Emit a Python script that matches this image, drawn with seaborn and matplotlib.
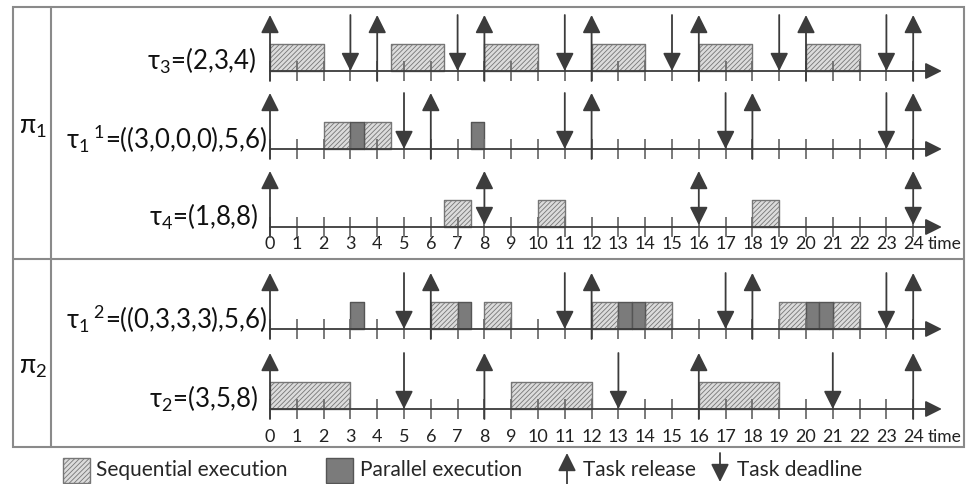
import matplotlib
matplotlib.use("Agg")
import matplotlib.pyplot as plt
import matplotlib.patches as mpatches
import seaborn as sns

sns.set_style("white")
plt.rcParams["font.family"] = ["Lato", "DejaVu Sans"]
plt.rcParams["mathtext.default"] = "regular"
plt.rcParams["hatch.linewidth"] = 0.6

# schedule data: (start, duration) pairs, release / deadline instants
labels = [r"τ$_3$=(2,3,4)", r"τ$_1\,{}^1$=((3,0,0,0),5,6)", r"τ$_4$=(1,8,8)",
          r"τ$_1\,{}^2$=((0,3,3,3),5,6)", r"τ$_2$=(3,5,8)"]
seq_exec = [
    [(0, 2), (4.5, 2), (8, 2), (12, 2), (16, 2), (20, 2)],
    [(2, 1), (3.5, 1)],
    [(6.5, 1), (10, 1), (18, 1)],
    [(6, 1), (8, 1), (12, 1), (14, 1), (19, 1), (21, 1)],
    [(0, 3), (9, 3), (16, 3)],
]
par_exec = [
    [],
    [(3, 0.5), (7.5, 0.5)],
    [],
    [(3, 0.5), (7, 0.5), (13, 0.5), (13.5, 0.5), (20, 0.5), (20.5, 0.5)],
    [],
]
releases = [
    [0, 4, 8, 12, 16, 20, 24],
    [0, 6, 12, 18, 24],
    [0, 8, 16, 24],
    [0, 6, 12, 18, 24],
    [0, 8, 16, 24],
]
deadlines = [
    [3, 7, 11, 15, 19, 23],
    [5, 11, 17, 23],
    [8, 16, 24],
    [5, 11, 17, 23],
    [5, 13, 21],
]
time_ticks = list(range(25))

# layout (pixels)
row_y = [71, 149, 227, 329, 409]
label_x = [256, 267, 258, 267, 258]
x0, scale = 270, 26.8
W, H = 969, 484

C_LINE = "#6e6e6e"
C_ARROW = "#3c3c3c"
C_SEQ = "#dcdcdc"
C_PAR = "#7b7b7b"

fig = plt.figure(figsize=(W / 100, H / 100), dpi=100)
ax = fig.add_axes([0, 0, 1, 1])
ax.set_xlim(-x0 / scale, (W - x0) / scale)
ax.set_ylim(H, 0)
ax.axis("off")
lay = fig.add_axes([0, 0, 1, 1], zorder=-1)
lay.set_xlim(0, W)
lay.set_ylim(H, 0)
lay.axis("off")


def arrow(a, xy, xytext, style="-|>", lw=1.3, ms=11, z=5):
    a.annotate("", xy=xy, xytext=xytext,
               arrowprops=dict(arrowstyle=style + ",head_length=1.0,head_width=0.5",
                               color=C_ARROW, lw=lw, shrinkA=0, shrinkB=0,
                               mutation_scale=ms),
               zorder=z)


for i, y in enumerate(row_y):
    # time axis with arrow head
    arrow(ax, (25.07, y), (0, y), lw=1.3, ms=10)
    ax.vlines(time_ticks, y - 10, y + 10, color=C_LINE, lw=1.3, zorder=4)
    ax.broken_barh(seq_exec[i], (y - 27, 27), facecolors=C_SEQ,
                   edgecolors="#767676", hatch="///////", lw=1.0, zorder=3)
    if par_exec[i]:
        ax.broken_barh(par_exec[i], (y - 27, 27), facecolors=C_PAR,
                       edgecolors="#555555", lw=1.0, zorder=3)
    both = set(releases[i]) & set(deadlines[i])
    for t in releases[i]:
        if t in both:
            arrow(ax, (t, y - 56), (t, y - 2), style="<|-|>")
        else:
            arrow(ax, (t, y - 56), (t, y + 10))
    for t in deadlines[i]:
        if t not in both:
            arrow(ax, (t, y), (t, y - 56))
    lay.text(label_x[i], y - 10, labels[i], ha="right", va="center",
             fontsize=18.5, color="#111111")

# time tick labels under each processor block
for y in [244, 437]:
    for t in time_ticks:
        ax.text(t, y, str(t), ha="center", va="center", fontsize=13, color="#222222")
    lay.text(928, y, "time", ha="left", va="center", fontsize=12.5, color="#222222")

# frame
frame_c = "#8a8a8a"
lay.add_patch(mpatches.Rectangle((13, 7), 951, 440, fill=False, ec=frame_c, lw=1.5))
lay.plot([51, 51], [7, 447], color=frame_c, lw=1.5)
lay.plot([13, 964], [259, 259], color=frame_c, lw=1.5)
lay.text(33, 127, r"π$_1$", ha="center", va="center", fontsize=19, color="#111111")
lay.text(33, 367, r"π$_2$", ha="center", va="center", fontsize=19, color="#111111")

# legend
lay.add_patch(mpatches.Rectangle((63, 458), 27, 25, fc=C_SEQ, ec="#767676",
                                 hatch="///////", lw=1.0))
lay.text(96, 470, "Sequential execution", ha="left", va="center", fontsize=15)
lay.add_patch(mpatches.Rectangle((326, 458), 27, 25, fc=C_PAR, ec="#555555", lw=1.0))
lay.text(360, 470, "Parallel execution", ha="left", va="center", fontsize=15)
arrow(lay, (567, 453), (567, 486))
lay.text(583, 470, "Task release", ha="left", va="center", fontsize=15)
arrow(lay, (720, 482), (720, 453))
lay.text(737, 470, "Task deadline", ha="left", va="center", fontsize=15)

fig.savefig("out.png", dpi=100)
